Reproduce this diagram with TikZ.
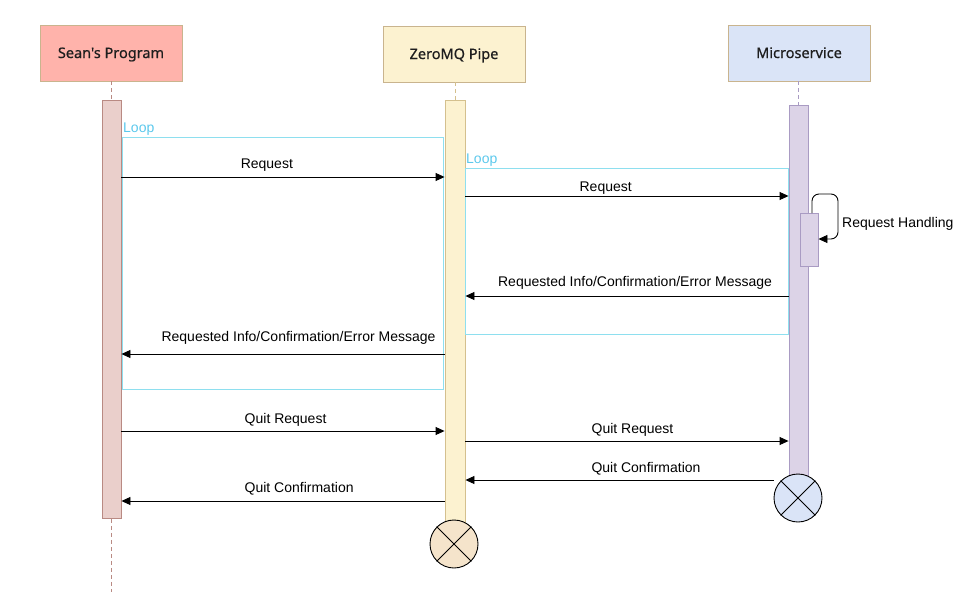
\documentclass[tikz,border=0pt]{standalone}
\usepackage{fontspec}
\setmainfont{Liberation Sans}
\newfontfamily\headfont[FakeBold=0.6]{Noto Sans}
\usetikzlibrary{arrows.meta,calc}
\definecolor{seanfill}{HTML}{FFB3AB}
\definecolor{headborder}{HTML}{C9B48E}
\definecolor{seanbar}{HTML}{EACFCB}
\definecolor{seanbarb}{HTML}{B98A83}
\definecolor{zfill}{HTML}{FCF2D0}
\definecolor{zbarb}{HTML}{D4C08E}
\definecolor{mfill}{HTML}{DAE4F7}
\definecolor{mbar}{HTML}{DCD3E7}
\definecolor{mbarb}{HTML}{A99BC3}
\definecolor{loopc}{HTML}{8EDFEF}
\definecolor{looptext}{HTML}{5BC8EC}
\definecolor{zterm}{HTML}{F5E4CB}
\definecolor{headtext}{HTML}{1E1E1E}
\tikzset{
  header/.style={draw=headborder, line width=0.9pt, minimum width=142pt, minimum height=56pt, inner sep=0pt, text height=13pt, text depth=3pt, font=\headfont\fontsize{14.5}{16}\selectfont, text=headtext},
  actbar/.style={line width=0.9pt, minimum width=19pt, inner sep=0pt},
  life/.style={dashed, dash pattern=on 4pt off 3pt, line width=0.9pt},
  loopbox/.style={draw=loopc, line width=0.9pt},
  looplabel/.style={text=looptext, font=\fontsize{14}{16}\selectfont, anchor=south west, inner sep=1pt},
  msg/.style={line width=0.9pt, -{Triangle[length=9pt,width=8pt]}},
  mlabel/.style={font=\fontsize{14}{16}\selectfont, anchor=south, inner sep=1pt},
  term/.style={circle, draw=black, line width=0.9pt, minimum size=48pt, inner sep=0pt}
}
\begin{document}
\begin{tikzpicture}[x=1pt,y=-1pt]
\useasboundingbox (0,0) rectangle (980,592);
% headers
\node[header, fill=seanfill] (sh) at (111,53) {Sean's Program};
\node[header, fill=zfill] (zh) at (454,54) {ZeroMQ Pipe};
\node[header, fill=mfill] (mh) at (799,53) {Microservice};
% activation bars
\node[actbar, draw=seanbarb, fill=seanbar, minimum height=418pt, anchor=north] (sb) at (111.5,100) {};
\node[actbar, draw=zbarb, fill=zfill, minimum height=424pt, anchor=north, minimum width=20pt] (zb) at (455,100) {};
\node[actbar, draw=mbarb, fill=mbar, minimum height=372pt, anchor=north] (mb) at (798.5,105) {};
\node[actbar, draw=mbarb, fill=mbar, minimum height=53pt, minimum width=18pt, anchor=north] (hb) at (809,213) {};
% lifelines
\draw[life, draw=seanbarb] (sh.south -| sb.north) -- (sb.north);
\coordinate (send) at (111.5,592);
\draw[life, draw=seanbarb] (sb.south) -- (send);
\draw[life, draw=zbarb] (zh.south -| zb.north) -- (zb.north);
\draw[life, draw=mbarb] (mh.south -| mb.north) -- (mb.north);
% terminators
\node[term, fill=zterm] (zt) at (454,544) {};
\draw[line width=0.9pt] (zt.north west) -- (zt.south east) (zt.north east) -- (zt.south west);
\node[term, fill=mfill] (mt) at (798,498) {};
\draw[line width=0.9pt] (mt.north west) -- (mt.south east) (mt.north east) -- (mt.south west);
% loops
\coordinate (l1a) at (122,137);
\coordinate (l1b) at (443,389);
\draw[loopbox] (l1a) rectangle (l1b);
\node[looplabel] (l1t) at (l1a) {Loop};
\coordinate (l2a) at (465,168);
\coordinate (l2b) at (788,334);
\draw[loopbox] (l2a) rectangle (l2b);
\node[looplabel] (l2t) at (l2a) {Loop};
% messages
\draw[msg] (sb.east |- 0,177) -- node[mlabel, pos=0.45, yshift=4pt] (m1) {Request} (zb.west |- 0,177);
\draw[msg] (zb.east |- 0,196) -- node[mlabel, pos=0.434, yshift=0pt] (m2) {Request} (mb.west |- 0,196);
\draw[msg, rounded corners=7pt] (hb.north -| 812,0) -- (812,194) -- (838,194) -- (838,239) -- (hb.east |- 0,239);
\node[font=\fontsize{14}{16}\selectfont, anchor=west, inner sep=0pt] (rh) at (842,224) {Request Handling};
\draw[msg] (mb.west |- 0,296) -- node[mlabel, pos=0.475, yshift=5pt] (m3) {Requested Info/Confirmation/Error Message} (zb.east |- 0,296);
\draw[msg] (zb.west |- 0,354) -- node[mlabel, pos=0.452, yshift=8pt] (m4) {Requested Info/Confirmation/Error Message} (sb.east |- 0,354);
\draw[msg] (sb.east |- 0,431) -- node[mlabel, pos=0.508, yshift=3pt] (m5) {Quit Request} (zb.west |- 0,431);
\draw[msg] (zb.east |- 0,441) -- node[mlabel, pos=0.517, yshift=3pt] (m6) {Quit Request} (mb.west |- 0,441);
\draw[msg] (mt.west |- 0,480) -- node[mlabel, pos=0.414, yshift=3pt] (m7) {Quit Confirmation} (zb.east |- 0,480);
\draw[msg] (zb.west |- 0,501) -- node[mlabel, pos=0.45, yshift=4pt] (m8) {Quit Confirmation} (sb.east |- 0,501);
\end{tikzpicture}
\end{document}
